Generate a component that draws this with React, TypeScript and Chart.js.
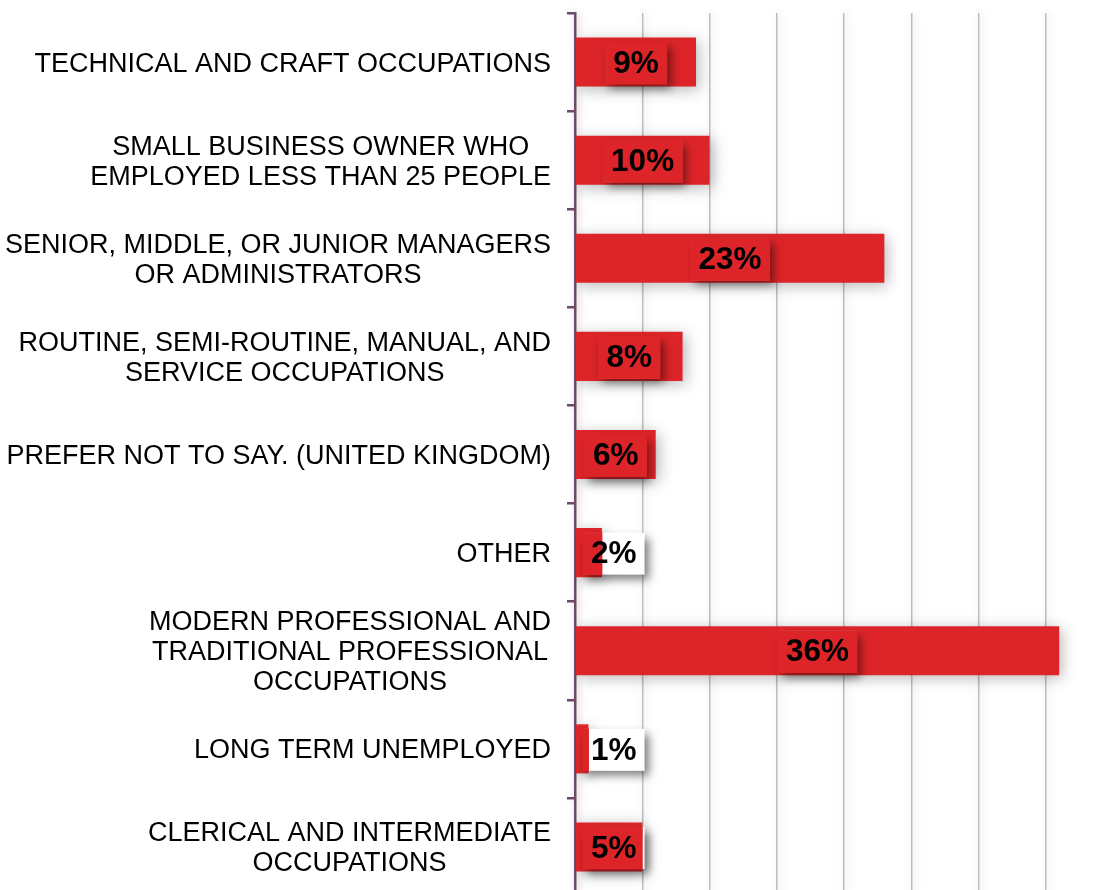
import React, { useEffect, useRef } from "react";
import { Chart, registerables } from "chart.js";

Chart.register(...registerables);

const categories: string[][] = [
  ["TECHNICAL AND CRAFT OCCUPATIONS"],
  ["SMALL BUSINESS OWNER WHO", "EMPLOYED LESS THAN 25 PEOPLE"],
  ["SENIOR, MIDDLE, OR JUNIOR MANAGERS", "OR ADMINISTRATORS"],
  ["ROUTINE, SEMI-ROUTINE, MANUAL, AND", "SERVICE OCCUPATIONS"],
  ["PREFER NOT TO SAY. (UNITED KINGDOM)"],
  ["OTHER"],
  ["MODERN PROFESSIONAL AND", "TRADITIONAL PROFESSIONAL", "OCCUPATIONS"],
  ["LONG TERM UNEMPLOYED"],
  ["CLERICAL AND INTERMEDIATE", "OCCUPATIONS"],
];
const values: number[] = [9, 10, 23, 8, 6, 2, 36, 1, 5];
const valueLabels: string[] = ["9%", "10%", "23%", "8%", "6%", "2%", "36%", "1%", "5%"];

const BAR_COLOR = "#dd2529";
const AXIS_COLOR = "#6e4a6c";
const FONT = "Arial, Liberation Sans, Helvetica, sans-serif";

const effectsPlugin = {
  id: "effects",
  beforeDraw(chart: any) {
    const ctx = chart.ctx;
    ctx.save();
    ctx.shadowColor = "rgba(0,0,0,0.18)";
    ctx.shadowBlur = 8;
    ctx.shadowOffsetX = 2;
    ctx.shadowOffsetY = 0;
  },
  beforeDatasetsDraw(chart: any) {
    const ctx = chart.ctx;
    ctx.restore();
    ctx.save();
    ctx.shadowColor = "rgba(0,0,0,0.28)";
    ctx.shadowBlur = 14;
    ctx.shadowOffsetX = 3;
    ctx.shadowOffsetY = 3;
  },
  afterDatasetsDraw(chart: any) {
    const ctx = chart.ctx;
    ctx.restore();
    const area = chart.chartArea;
    const meta = chart.getDatasetMeta(0);
    ctx.save();
    ctx.font = `bold 31.5px ${FONT}`;
    meta.data.forEach((bar: any, i: number) => {
      const label = valueLabels[i];
      const tw = ctx.measureText(label).width;
      const w = tw + 16;
      const h = 42;
      const cx = (bar.x + bar.base) / 2;
      const left = Math.max(cx - w / 2, area.left + 8);
      const top = bar.y + 1 - h / 2;
      ctx.save();
      ctx.shadowColor = "rgba(0,0,0,0.5)";
      ctx.shadowBlur = 9;
      ctx.shadowOffsetX = 4;
      ctx.shadowOffsetY = 5;
      ctx.fillStyle = "#ffffff";
      ctx.fillRect(left, top, w, h);
      ctx.restore();
      const bl = Math.min(bar.base, bar.x);
      const br = Math.max(bar.base, bar.x);
      const bt = bar.y - bar.height / 2;
      const bb = bar.y + bar.height / 2;
      const ix1 = Math.max(left, bl);
      const ix2 = Math.min(left + w, br);
      const iy1 = Math.max(top, bt);
      const iy2 = Math.min(top + h, bb);
      if (ix2 > ix1 && iy2 > iy1) {
        ctx.fillStyle = BAR_COLOR;
        ctx.fillRect(ix1 - 0.5, iy1 - 0.5, ix2 - ix1 + 1, iy2 - iy1 + 1);
      }
      ctx.fillStyle = "#000000";
      ctx.textAlign = "center";
      ctx.textBaseline = "middle";
      ctx.fillText(label, left + w / 2, top + h / 2 + 1);
    });
    ctx.restore();
  },
  afterDraw(chart: any) {
    const ctx = chart.ctx;
    const yScale = chart.scales.y;
    ctx.save();
    ctx.font = `27px ${FONT}`;
    ctx.fillStyle = "#000000";
    ctx.textAlign = "center";
    ctx.textBaseline = "middle";
    const right = yScale.left + yScale.width - 24;
    categories.forEach((lines, i) => {
      const y = yScale.getPixelForValue(i);
      const maxW = Math.max(...lines.map((l) => ctx.measureText(l).width));
      const cx = right - maxW / 2;
      lines.forEach((line, j) => {
        const ly = y + (j - (lines.length - 1) / 2) * 30 + 2;
        ctx.fillText(line, cx, ly);
      });
    });
    ctx.restore();
  },
};

export default function App() {
  const ref = useRef<HTMLCanvasElement | null>(null);
  useEffect(() => {
    if (!ref.current) return;
    const chart = new Chart(ref.current, {
      type: "bar",
      data: {
        labels: categories.map((c) => c.join(" ")),
        datasets: [
          {
            data: values,
            backgroundColor: BAR_COLOR,
            borderWidth: 0,
            barPercentage: 0.5,
            categoryPercentage: 1,
          },
        ],
      },
      options: {
        indexAxis: "y",
        responsive: false,
        animation: false,
        devicePixelRatio: 1,
        layout: { padding: { top: 13, right: 7, left: 0, bottom: 0 } },
        plugins: { legend: { display: false }, tooltip: { enabled: false } },
        scales: {
          x: {
            min: 0,
            max: 40,
            ticks: { display: false, stepSize: 5 },
            grid: { color: "#bdbdbd", lineWidth: 1.5, drawTicks: false },
            border: { display: false },
            afterFit: (s: any) => {
              s.height = 0;
            },
          },
          y: {
            ticks: { display: false },
            grid: {
              drawOnChartArea: false,
              drawTicks: true,
              tickLength: 8,
              color: AXIS_COLOR,
              lineWidth: 2.5,
              offset: true,
            },
            border: { color: AXIS_COLOR, width: 2.5 },
            afterFit: (s: any) => {
              s.width = 575;
            },
          },
        },
      },
      plugins: [effectsPlugin],
    });
    return () => chart.destroy();
  }, []);
  return (
    <div
      style={{
        position: "fixed",
        left: 0,
        top: 0,
        width: 1104,
        height: 890,
        overflow: "hidden",
        background: "#ffffff",
      }}
    >
      <canvas ref={ref} width={1120} height={896} style={{ display: "block" }} />
    </div>
  );
}
